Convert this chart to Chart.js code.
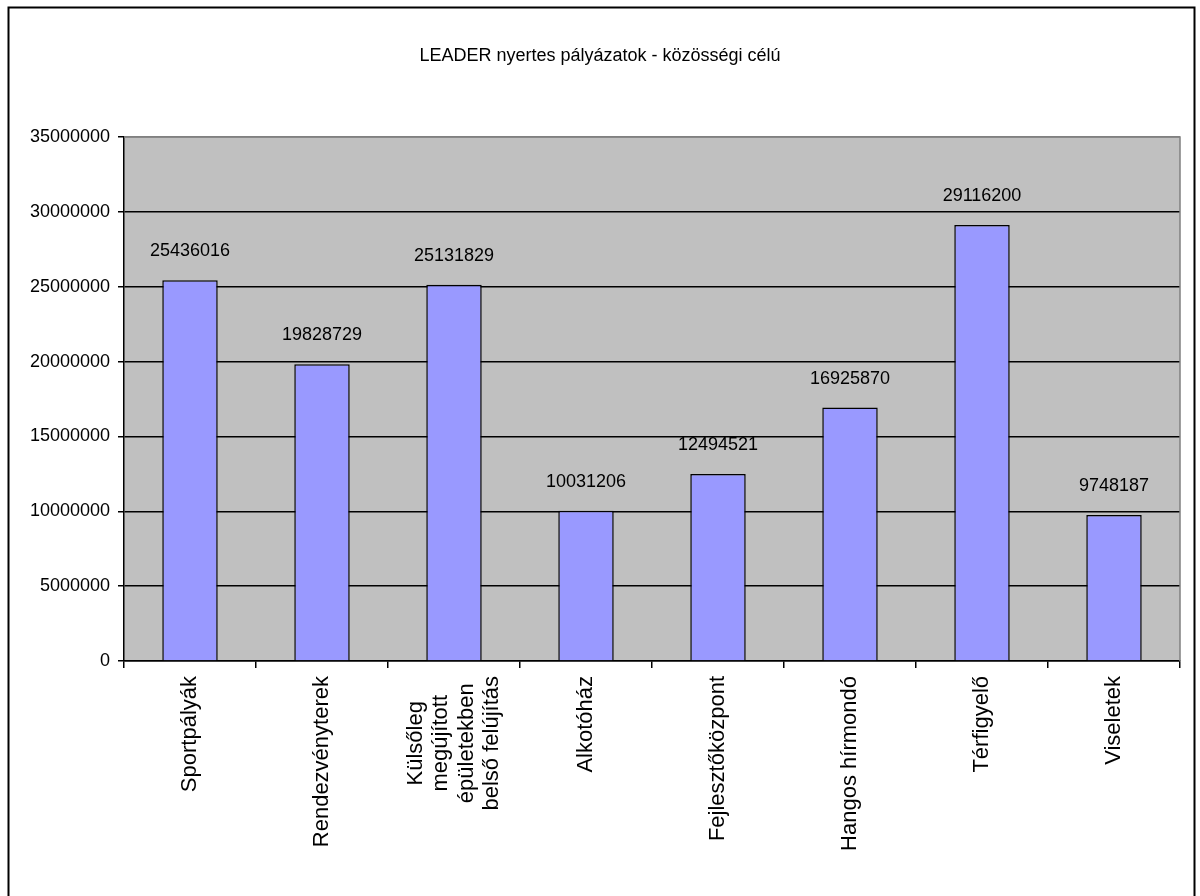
<!DOCTYPE html>
<html>
<head>
<meta charset="utf-8">
<script src="https://cdn.jsdelivr.net/npm/chart.js@4"></script>
<style>
  html, body { margin: 0; padding: 0; background: #fff; }
  #wrap { width: 1200px; height: 896px; }
</style>
</head>
<body>
<div id="wrap"><canvas id="c" width="1200" height="896"></canvas></div>
<script>
const titleText = 'LEADER nyertes pályázatok - közösségi célú';
const categories = [
  'Sportpályák',
  'Rendezvényterek',
  ['Külsőleg', 'megújított', 'épületekben', 'belső felújítás'],
  'Alkotóház',
  'Fejlesztőközpont',
  'Hangos hírmondó',
  'Térfigyelő',
  'Viseletek'
];
const values = [25436016, 19828729, 25131829, 10031206, 12494521, 16925870, 29116200, 9748187];
const yTicks = [0, 5000000, 10000000, 15000000, 20000000, 25000000, 30000000, 35000000];

const FONT = '"Liberation Sans", Arial, sans-serif';

const decor = {
  id: 'decor',
  beforeDraw(chart) {
    const { ctx, chartArea: a } = chart;
    ctx.save();
    ctx.fillStyle = '#C0C0C0';
    ctx.fillRect(a.left, a.top, a.right - a.left, a.bottom - a.top);
    ctx.strokeStyle = '#000';
    ctx.lineWidth = 2;
    ctx.beginPath();
    ctx.moveTo(8.5, 900);
    ctx.lineTo(8.5, 7.5);
    ctx.lineTo(1194.5, 7.5);
    ctx.lineTo(1194.5, 900);
    ctx.stroke();
    ctx.restore();
  },
  afterDraw(chart) {
    const { ctx, chartArea: a } = chart;
    ctx.save();
    ctx.strokeStyle = '#808080';
    ctx.lineWidth = 1.5;
    ctx.beginPath();
    ctx.moveTo(a.left, a.top);
    ctx.lineTo(a.right, a.top);
    ctx.lineTo(a.right, a.bottom);
    ctx.stroke();
    ctx.restore();
  },
  afterDatasetsDraw(chart) {
    const { ctx } = chart;
    const meta = chart.getDatasetMeta(0);
    ctx.save();
    ctx.font = '18px ' + FONT;
    ctx.fillStyle = '#000';
    ctx.textAlign = 'center';
    ctx.textBaseline = 'bottom';
    meta.data.forEach((bar, i) => {
      ctx.fillText(String(values[i]), bar.x, bar.y - 20);
    });
    ctx.restore();
  }
};

// Center multi-line rotated tick labels around their tick, each line centered
function centerMultiline(scale) {
  if (scale._mlPatched) return;
  scale._mlPatched = true;
  const orig = scale.getLabelItems.bind(scale);
  scale.getLabelItems = function (chartArea) {
    const items = orig(chartArea);
    const ctx = scale.ctx;
    items.forEach(it => {
      if (Array.isArray(it.label) && it.label.length > 1 && !it._adj) {
        const lh = it.font.lineHeight;
        const n = it.label.length;
        it.textOffset -= (n - 1) / 2 * lh;
        ctx.save();
        ctx.font = it.font.string;
        const maxW = Math.max(...it.label.map(s => ctx.measureText(s).width));
        ctx.restore();
        const tr = it.options.translation;
        it.options = Object.assign({}, it.options, {
          textAlign: 'center',
          translation: [tr[0], tr[1] + maxW / 2]
        });
        it._adj = true;
      }
    });
    return items;
  };
}

new Chart(document.getElementById('c'), {
  type: 'bar',
  data: {
    labels: categories,
    datasets: [{
      data: values,
      backgroundColor: '#9999FF',
      borderColor: '#000',
      borderWidth: 1.5,
      categoryPercentage: 1,
      barPercentage: 0.42
    }]
  },
  options: {
    responsive: false,
    animation: false,
    layout: { padding: { left: 20, right: 20, top: 0, bottom: 0 } },
    plugins: {
      legend: { display: false },
      tooltip: { enabled: false },
      title: {
        display: true,
        text: titleText,
        color: '#000',
        font: { family: FONT, size: 18, weight: 'normal' },
        padding: { top: 45, bottom: 70.4 }
      }
    },
    scales: {
      y: {
        min: 0,
        max: 35000000,
        afterBuildTicks(scale) { scale.ticks = yTicks.map(v => ({ value: v })); },
        afterFit(scale) { scale.width = 104; },
        ticks: {
          color: '#000',
          font: { family: FONT, size: 18 },
          padding: 8,
          callback: v => String(v)
        },
        grid: {
          color: ctx => (ctx.tick && ctx.tick.value === 35000000) ? '#808080' : '#000',
          tickColor: '#000',
          lineWidth: 1.5,
          tickLength: 6
        },
        border: { color: '#000', width: 1.5 }
      },
      x: {
        afterFit(scale) { scale.height = 235; },
        afterUpdate: centerMultiline,
        ticks: {
          color: '#000',
          font: { family: FONT, size: 22, lineHeight: 1.15 },
          minRotation: 90,
          maxRotation: 90,
          autoSkip: false,
          padding: 8
        },
        grid: {
          offset: true,
          drawOnChartArea: false,
          drawTicks: true,
          tickLength: 7,
          tickColor: '#000',
          lineWidth: 1.5
        },
        border: { color: '#000', width: 1.5 }
      }
    }
  },
  plugins: [decor]
});
</script>
</body>
</html>
